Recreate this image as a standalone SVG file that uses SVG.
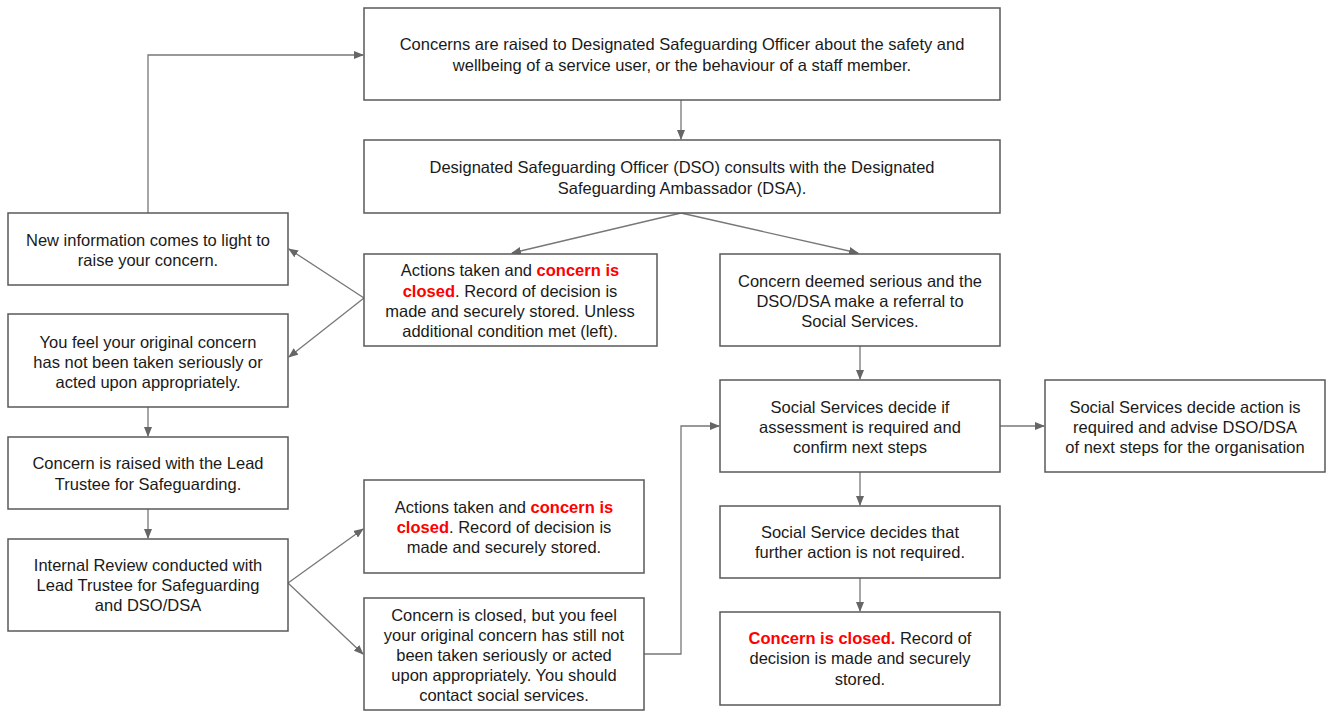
<svg xmlns="http://www.w3.org/2000/svg" width="1332" height="711" viewBox="0 0 1332 711">
<defs>
<marker id="ah" markerWidth="10" markerHeight="8" refX="9" refY="4" orient="auto" markerUnits="userSpaceOnUse">
<path d="M0,0 L10,4 L0,8 Z" fill="#666"/>
</marker>
<style>
.box{fill:#fff;stroke:#595959;stroke-width:1.5}
.t{font-family:"Liberation Sans",Arial,sans-serif;font-size:16.5px;fill:#1a1a1a;text-anchor:middle}
.r{fill:#ff0000;font-weight:bold}
.c{fill:none;stroke:#777;stroke-width:1.3;marker-end:url(#ah)}
</style>
</defs>
<rect width="1332" height="711" fill="#fff"/>
<g id="connectors">
<path class="c" d="M681,100 V139"/>
<path class="c" d="M681,213 L512,253"/>
<path class="c" d="M681,213 L858,253"/>
<path class="c" d="M364,298 L289,249"/>
<path class="c" d="M364,298 L289,357"/>
<path class="c" d="M148,213 V55 H363"/>
<path class="c" d="M148,407 V436"/>
<path class="c" d="M148,509 V538"/>
<path class="c" d="M288,583 L363,529"/>
<path class="c" d="M288,583 L363,654"/>
<path class="c" d="M644,654 H681 V426 H719"/>
<path class="c" d="M860,346 V379"/>
<path class="c" d="M1000,426 H1044"/>
<path class="c" d="M860,472 V505"/>
<path class="c" d="M860,578 V611"/>
</g>
<g id="n1"><rect class="box" x="364" y="8" width="636" height="92"/>
<text class="t" x="682" y="50">Concerns are raised to Designated Safeguarding Officer about the safety and</text>
<text class="t" x="682" y="71">wellbeing of a service user, or the behaviour of a staff member.</text></g>
<g id="n2"><rect class="box" x="364" y="140" width="636" height="73"/>
<text class="t" x="682" y="173">Designated Safeguarding Officer (DSO) consults with the Designated</text>
<text class="t" x="682" y="194">Safeguarding Ambassador (DSA).</text></g>
<g id="n3"><rect class="box" x="364" y="254" width="293" height="92"/>
<text class="t" x="510" y="276">Actions taken and <tspan class="r">concern is</tspan></text>
<text class="t" x="510" y="297"><tspan class="r">closed</tspan>. Record of decision is</text>
<text class="t" x="510" y="317">made and securely stored. Unless</text>
<text class="t" x="510" y="337">additional condition met (left).</text></g>
<g id="n4"><rect class="box" x="720" y="254" width="280" height="92"/>
<text class="t" x="860" y="287">Concern deemed serious and the</text>
<text class="t" x="860" y="307">DSO/DSA make a referral to</text>
<text class="t" x="860" y="327">Social Services.</text></g>
<g id="n5"><rect class="box" x="8" y="213" width="280" height="72"/>
<text class="t" x="148" y="246">New information comes to light to</text>
<text class="t" x="148" y="266">raise your concern.</text></g>
<g id="n6"><rect class="box" x="8" y="314" width="280" height="93"/>
<text class="t" x="148" y="348">You feel your original concern</text>
<text class="t" x="148" y="368">has not been taken seriously or</text>
<text class="t" x="148" y="388">acted upon appropriately.</text></g>
<g id="n7"><rect class="box" x="8" y="437" width="280" height="72"/>
<text class="t" x="148" y="469">Concern is raised with the Lead</text>
<text class="t" x="148" y="490">Trustee for Safeguarding.</text></g>
<g id="n8"><rect class="box" x="8" y="539" width="280" height="92"/>
<text class="t" x="148" y="571">Internal Review conducted with</text>
<text class="t" x="148" y="591">Lead Trustee for Safeguarding</text>
<text class="t" x="148" y="611">and DSO/DSA</text></g>
<g id="n9"><rect class="box" x="364" y="480" width="280" height="93"/>
<text class="t" x="504" y="513">Actions taken and <tspan class="r">concern is</tspan></text>
<text class="t" x="504" y="533"><tspan class="r">closed</tspan>. Record of decision is</text>
<text class="t" x="504" y="553">made and securely stored.</text></g>
<g id="n10"><rect class="box" x="364" y="598" width="280" height="112"/>
<text class="t" x="504" y="621">Concern is closed, but you feel</text>
<text class="t" x="504" y="641">your original concern has still not</text>
<text class="t" x="504" y="661">been taken seriously or acted</text>
<text class="t" x="504" y="681">upon appropriately. You should</text>
<text class="t" x="504" y="701">contact social services.</text></g>
<g id="n11"><rect class="box" x="720" y="380" width="280" height="92"/>
<text class="t" x="860" y="413">Social Services decide if</text>
<text class="t" x="860" y="433">assessment is required and</text>
<text class="t" x="860" y="453">confirm next steps</text></g>
<g id="n12"><rect class="box" x="1045" y="380" width="280" height="92"/>
<text class="t" x="1185" y="413">Social Services decide action is</text>
<text class="t" x="1185" y="433">required and advise DSO/DSA</text>
<text class="t" x="1185" y="453">of next steps for the organisation</text></g>
<g id="n13"><rect class="box" x="720" y="506" width="280" height="72"/>
<text class="t" x="860" y="538">Social Service decides that</text>
<text class="t" x="860" y="558">further action is not required.</text></g>
<g id="n14"><rect class="box" x="720" y="612" width="280" height="93"/>
<text class="t" x="860" y="644"><tspan class="r">Concern is closed.</tspan> Record of</text>
<text class="t" x="860" y="664">decision is made and securely</text>
<text class="t" x="860" y="685">stored.</text></g>
</svg>
